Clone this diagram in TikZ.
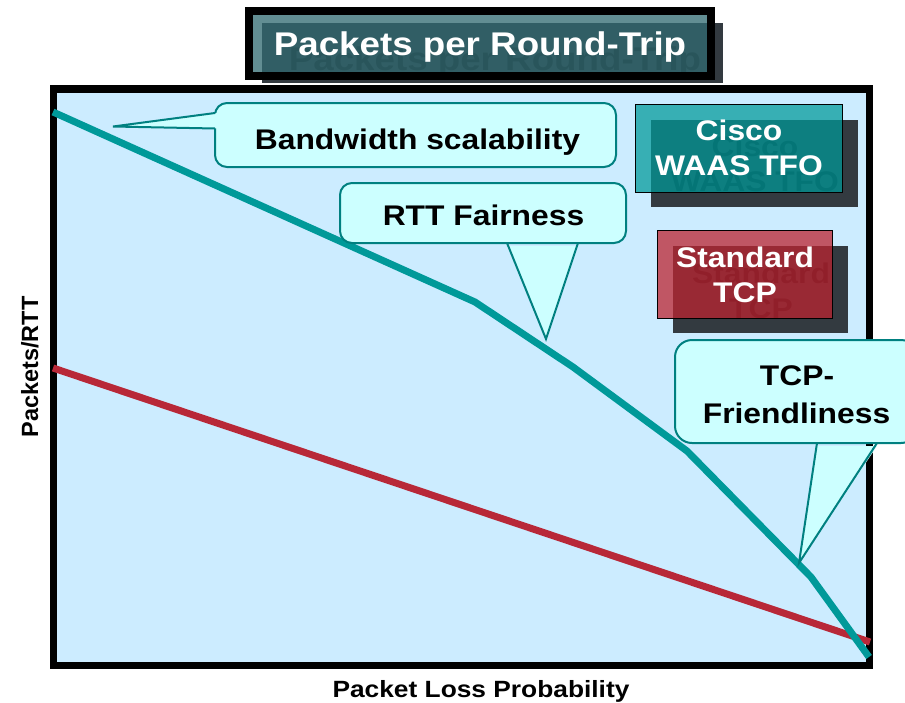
\documentclass[tikz,border=0pt]{standalone}
\usepackage{fontspec}
\setmainfont{Liberation Sans}[FakeStretch=1.12]
\newfontfamily\plainfont{Liberation Sans}
\definecolor{plotbg}{RGB}{204,236,255}
\definecolor{calloutfill}{RGB}{204,255,255}
\definecolor{calloutedge}{RGB}{0,128,128}
\definecolor{tealline}{RGB}{0,153,153}
\definecolor{redline}{RGB}{184,40,56}
\definecolor{shadowgray}{RGB}{51,58,64}
\definecolor{titlefill}{RGB}{49,106,113}
\definecolor{ciscofill}{RGB}{0,153,153}
\definecolor{tcpfill}{RGB}{188,36,49}
\definecolor{shadowtxt}{RGB}{18,20,24}
\begin{document}
\begin{tikzpicture}[x=1pt,y=-1pt,
  calloutbox/.style={shape=rectangle,draw=calloutedge,fill=calloutfill,line width=2pt,rounded corners=12pt,inner sep=0pt},
  tailfill/.style={fill=calloutfill},
  tailedge/.style={draw=calloutedge,line width=2pt,line join=miter},
  calltext/.style={anchor=base,inner sep=0pt,font=\bfseries\fontsize{28.4}{34}\selectfont},
  boxtext/.style={anchor=base,inner sep=0pt,text=white,font=\bfseries\fontsize{28.4}{34}\selectfont},
  shadowlabel/.style={boxtext,text=shadowtxt},
  shadowbox/.style={shape=rectangle,fill=shadowgray,inner sep=0pt},
  titletext/.style={anchor=base,inner sep=0pt,font=\bfseries\fontsize{32.8}{38}\selectfont},
  axistext/.style={inner sep=0pt,font=\bfseries\fontsize{23.5}{28}\selectfont},
  curve/.style={line width=7pt,line cap=butt,line join=miter}
]
\useasboundingbox (0,0) rectangle (905,702);

% plot frame
\node[shape=rectangle,draw=black,fill=plotbg,line width=7.5pt,inner sep=0pt,
      minimum width=816pt,minimum height=576.5pt] (frame) at (461.5,377.25) {};

% title
\node[shadowbox,minimum width=461pt,minimum height=60pt] (titleshadow) at (492.5,53) {};
\node[titletext,text=shadowtxt] (titleshadowlabel) at (495,70) {Packets per Round-Trip};
\node[shape=rectangle,draw=black,line width=8pt,fill=titlefill,fill opacity=0.76,inner sep=0pt,
      minimum width=462pt,minimum height=65pt] (titlebox) at (480,43.5) {};
\node[titletext,text=white] (title) at (480,55) {Packets per Round-Trip};

% curves
\coordinate (t0) at (53,112);
\coordinate (t1) at (475,302);
\coordinate (t2) at (573,367);
\coordinate (t3) at (687,451);
\coordinate (t4) at (811,577);
\coordinate (t5) at (869,657);
\coordinate (r0) at (53,368);
\coordinate (r1) at (870,642);
\draw[curve,draw=redline] (r0) -- (r1);
\draw[curve,draw=tealline] (t0) -- (t1) -- (t2) -- (t3) -- (t4) -- (t5);

% Cisco WAAS TFO box
\node[shadowbox,minimum width=207pt,minimum height=87pt] (ciscoshadow) at (754.5,163.5) {};
\node[shadowlabel] (ciscoshA) at (755,156) {Cisco};
\node[shadowlabel] (ciscoshB) at (755,191) {WAAS TFO};
\node[shape=rectangle,draw=black,line width=0.8pt,fill=ciscofill,fill opacity=0.73,inner sep=0pt,
      minimum width=207pt,minimum height=88pt] (cisco) at (738.5,148) {};
\node[boxtext] (ciscoA) at (739,140) {Cisco};
\node[boxtext] (ciscoB) at (739,175) {WAAS TFO};

% Standard TCP box
\node[shadowbox,minimum width=175pt,minimum height=87pt] (tcpshadow) at (760.5,289.5) {};
\node[shadowlabel] (tcpshA) at (761,283) {Standard};
\node[shadowlabel] (tcpshB) at (761,318) {TCP};
\node[shape=rectangle,draw=black,line width=0.8pt,fill=tcpfill,fill opacity=0.75,inner sep=0pt,
      minimum width=175pt,minimum height=88pt] (tcp) at (744.5,274) {};
\node[boxtext] (tcpA) at (745,267) {Standard};
\node[boxtext] (tcpB) at (745,302) {TCP};

% Callout: Bandwidth scalability
\node[calloutbox,minimum width=401pt,minimum height=64pt] (bw) at (415.5,135) {};
\coordinate (bwa) at (215,113);
\coordinate (bwb) at (215,128.5);
\coordinate (bwtip) at (113,126.5);
\fill[tailfill] ([xshift=3pt]bwa) -- (bwtip) -- ([xshift=3pt]bwb) -- cycle;
\draw[tailedge] (bwa) -- (bwtip) -- (bwb);
\node[calltext] (bwlabel) at (417.5,149) {Bandwidth scalability};

% Callout: RTT Fairness
\node[calloutbox,minimum width=286pt,minimum height=60pt] (rtt) at (483,213) {};
\coordinate (rtta) at (507,243);
\coordinate (rttb) at (578,243);
\coordinate (rtttip) at (546,339);
\fill[tailfill] ([yshift=-3pt]rtta) -- (rtttip) -- ([yshift=-3pt]rttb) -- cycle;
\draw[tailedge] (rtta) -- (rtttip) -- (rttb);
\node[calltext] (rttlabel) at (483.5,225) {RTT Fairness};

% Callout: TCP-Friendliness
\node[calloutbox,rounded corners=17pt,minimum width=243pt,minimum height=103pt] (tf) at (796.5,391.5) {};
\coordinate (tfa) at (817,443);
\coordinate (tfb) at (877,443);
\coordinate (tftip) at (799,563);
\fill[tailfill] ([yshift=-3pt]tfa) -- (tftip) -- ([yshift=-3pt]tfb) -- cycle;
\draw[tailedge] (tfa) -- (tftip) -- (tfb);
\node[calltext] (tfA) at (797,385) {TCP-};
\node[calltext] (tfB) at (796.5,423) {Friendliness};

% axis labels
\node[axistext,anchor=base] (xlabel) at (481,697) {Packet Loss Probability};
\node[inner sep=0pt,anchor=base,rotate=90,font=\plainfont\bfseries\fontsize{23.5}{28}\selectfont] (ylabel) at (38,367) {Packets/RTT};
\end{tikzpicture}
\end{document}
